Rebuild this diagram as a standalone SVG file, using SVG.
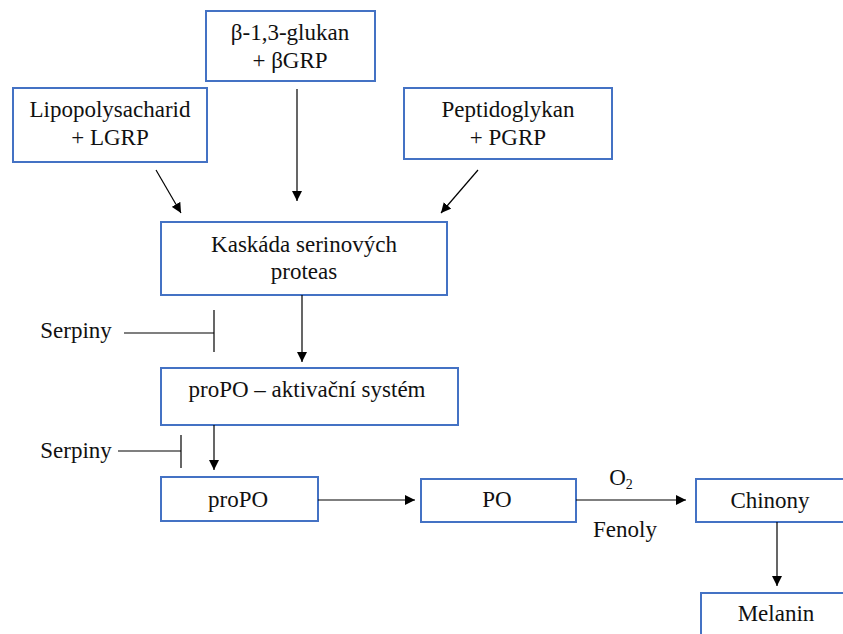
<svg xmlns="http://www.w3.org/2000/svg" width="843" height="634" viewBox="0 0 843 634">
<defs>
<marker id="ah" viewBox="0 0 10 10" refX="10" refY="5" markerWidth="10" markerHeight="10" markerUnits="userSpaceOnUse" orient="auto">
<path d="M0,0 L10,5 L0,10 z" fill="#000"/>
</marker>
</defs>
<style>
.box{fill:#fff;stroke:#4472C4;stroke-width:2}
.t text{font-size:23px;fill:#111;text-anchor:middle}
.c line{stroke:#000;stroke-width:1.2}
.arr{marker-end:url(#ah)}
</style>
<rect width="843" height="634" fill="#fff"/>
<g class="t" font-family="'Liberation Serif', 'Times New Roman', serif">
<g id="n-glukan"><rect class="box" x="206" y="11" width="169" height="70"/><text x="290" y="40">β-1,3-glukan</text><text x="290" y="68">+ βGRP</text></g>
<g id="n-lps"><rect class="box" x="13" y="88" width="194" height="74"/><text x="110" y="117">Lipopolysacharid</text><text x="110" y="145">+ LGRP</text></g>
<g id="n-pgn"><rect class="box" x="404" y="88" width="208" height="71"/><text x="508" y="117">Peptidoglykan</text><text x="508" y="145">+ PGRP</text></g>
<g id="n-kaskada"><rect class="box" x="161" y="222" width="286" height="73"/><text x="304" y="252">Kaskáda serinových</text><text x="304" y="279">proteas</text></g>
<g id="n-aktiv"><rect class="box" x="161" y="368" width="297" height="57"/><text x="307" y="397">proPO – aktivační systém</text></g>
<g id="n-propo"><rect class="box" x="161" y="477" width="157" height="44"/><text x="238" y="507">proPO</text></g>
<g id="n-po"><rect class="box" x="421" y="479" width="155" height="43"/><text x="497" y="507">PO</text></g>
<g id="n-chinony"><rect class="box" x="696" y="479" width="160" height="43"/><text x="770" y="508">Chinony</text></g>
<g id="n-melanin"><rect class="box" x="701" y="593" width="160" height="50"/><text x="776" y="621">Melanin</text></g>
<g id="l-serpiny1"><text x="76" y="338">Serpiny</text></g>
<g id="l-serpiny2"><text x="76" y="458">Serpiny</text></g>
<g id="l-o2"><text x="621" y="485">O<tspan font-size="14" dy="4">2</tspan></text></g>
<g id="l-fenoly"><text x="625" y="537">Fenoly</text></g>
</g>
<g class="c" id="connectors">
<line class="arr" x1="156" y1="170" x2="181" y2="213"/>
<line class="arr" x1="297" y1="89" x2="297" y2="201"/>
<line class="arr" x1="478" y1="170" x2="441" y2="213"/>
<line class="arr" x1="302" y1="295" x2="302" y2="362"/>
<line x1="124" y1="333" x2="214" y2="333"/>
<line x1="214" y1="310" x2="214" y2="352"/>
<line class="arr" x1="214" y1="425" x2="214" y2="470"/>
<line x1="118" y1="451" x2="181" y2="451"/>
<line x1="181" y1="435" x2="181" y2="468"/>
<line class="arr" x1="318" y1="500" x2="415" y2="500"/>
<line class="arr" x1="576" y1="500" x2="686" y2="500"/>
<line class="arr" x1="777" y1="522" x2="777" y2="586"/>
</g>
</svg>
